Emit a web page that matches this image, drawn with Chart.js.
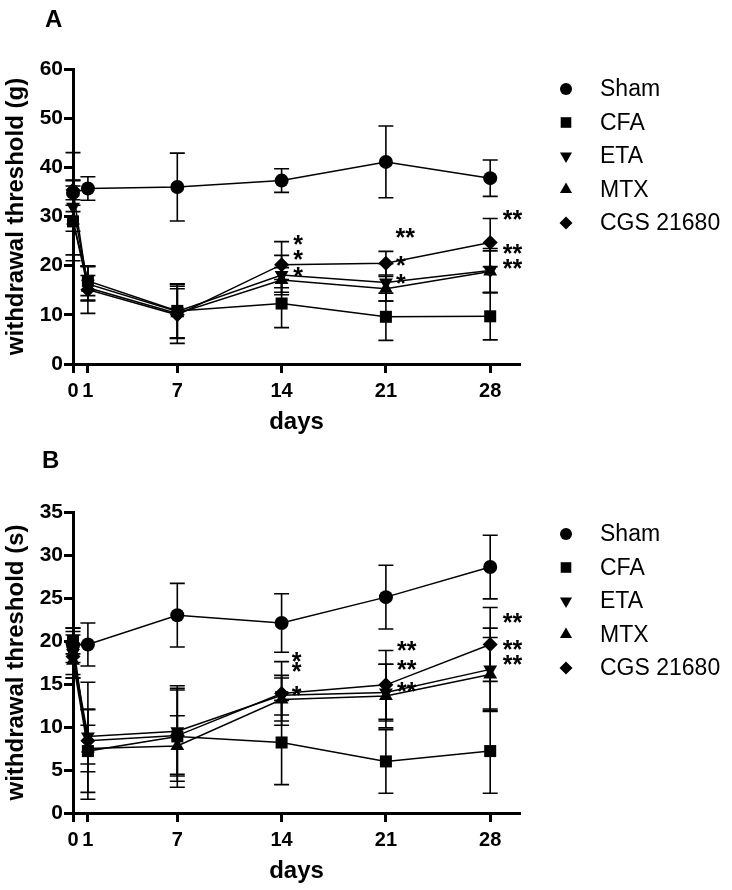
<!DOCTYPE html>
<html>
<head>
<meta charset="utf-8">
<script src="https://cdn.jsdelivr.net/npm/chart.js@4.4.1/dist/chart.umd.min.js"></script>
<style>
  html, body { margin: 0; padding: 0; background: #fff; }
  #wrap { position: relative; width: 732px; height: 890px; }
  canvas { position: absolute; left: 0; }
</style>
</head>
<body>
<div id="wrap">
  <canvas id="chartA" width="732" height="443" style="top:0"></canvas>
  <canvas id="chartB" width="732" height="447" style="top:443px"></canvas>
</div>
<script>
// data
const groups = ['Sham', 'CFA', 'ETA', 'MTX', 'CGS 21680'];
const days = [0, 1, 7, 14, 21, 28];
const tickDays = [0, 1, 7, 14, 21, 28];

// panel A - mechanical threshold (g)
const shamA = [34.8, 35.7, 36.0, 37.3, 41.1, 37.8];
const cfaA  = [29.0, 16.9, 10.8, 12.3, 9.6, 9.7];
const etaA  = [32.0, 16.3, 10.7, 18.1, 16.6, 19.0];
const mtxA  = [29.2, 15.5, 10.3, 17.1, 15.3, 18.8];
const cgsA  = [35.4, 15.1, 10.0, 20.2, 20.5, 24.7];

const shamAErr = [2.5, 2.4, 6.9, 2.4, 7.3, 3.7];
const cfaAErr  = [2.0, 3.0, 5.5, 4.9, 4.8, 4.8];
const etaAErr  = [11.0, 3.5, 5.5, 4.0, 3.8, 4.5];
const mtxAErr  = [7.0, 2.5, 5.0, 2.5, 2.5, 4.2];
const cgsAErr  = [2.0, 4.8, 5.8, 4.7, 2.4, 4.9];

const starDaysA   = [15.1, 15.1, 15.1, 22.3, 22.0, 22.0, 29.5, 29.5, 29.5];
const starValuesA = [25.4, 22.3, 18.9, 26.8, 21.2, 17.5, 30.5, 23.6, 20.6];
const starTextsA  = ['*', '*', '*', '**', '*', '*', '**', '**', '**'];

// panel B - thermal latency (s)
const shamB = [19.5, 19.6, 23.0, 22.1, 25.1, 28.6];
const cfaB  = [20.0, 7.2, 8.9, 8.2, 6.0, 7.2];
const etaB  = [18.6, 8.9, 9.5, 13.7, 14.0, 16.7];
const mtxB  = [17.7, 7.5, 7.8, 13.2, 13.6, 16.1];
const cgsB  = [18.2, 8.4, 9.0, 13.9, 14.9, 19.6];

const shamBErr = [2.0, 2.5, 3.7, 3.4, 3.7, 3.7];
const cfaBErr  = [1.5, 4.8, 5.9, 4.9, 3.7, 4.9];
const etaBErr  = [2.5, 3.2, 5.0, 2.3, 3.3, 4.8];
const mtxBErr  = [2.0, 2.7, 3.5, 2.5, 3.7, 4.3];
const cgsBErr  = [2.5, 6.8, 5.3, 3.7, 4.0, 4.3];

const starDaysB   = [15.0, 15.0, 15.0, 22.4, 22.4, 22.4, 29.5, 29.5, 29.5];
const starValuesB = [18.3, 17.1, 14.3, 19.5, 17.3, 14.8, 22.8, 19.6, 17.9];
const starTextsB  = ['*', '*', '*', '**', '**', '**', '**', '**', '**'];

//style
const FONT = "'Liberation Sans', Arial, Helvetica, sans-serif";
const pointStyles = ['circle', 'rect', 'triangle', 'triangle', 'rectRot'];
const pointRotations = [0, 0, 180, 0, 0];
const pointSizes = [7, 8.5, 8, 8, 7.5];
const legendSizes = [6, 7.5, 7, 7, 6.5];

const errorBars = {
    id: 'errorBars',
    beforeDatasetsDraw(chart, args, opts) {
        const { ctx, scales: { x, y } } = chart;
        ctx.save();
        ctx.strokeStyle = '#000';
        ctx.lineWidth = 1.6;
        opts.errors.forEach((errs, i) => {
            const pts = chart.data.datasets[i].data;
            errs.forEach((e, j) => {
                const px = x.getPixelForValue(pts[j].x);
                const top = y.getPixelForValue(pts[j].y + e);
                const bot = y.getPixelForValue(pts[j].y - e);
                ctx.beginPath();
                ctx.moveTo(px, top); ctx.lineTo(px, bot);
                ctx.moveTo(px - opts.cap, top); ctx.lineTo(px + opts.cap, top);
                ctx.moveTo(px - opts.cap, bot); ctx.lineTo(px + opts.cap, bot);
                ctx.stroke();
            });
        });
        ctx.restore();
    }
};

const stars = {
    id: 'stars',
    afterDatasetsDraw(chart, args, opts) {
        const { ctx, scales: { x, y } } = chart;
        ctx.save();
        ctx.fillStyle = '#000';
        ctx.font = `bold ${opts.size}px ${FONT}`;
        ctx.textAlign = 'center';
        ctx.textBaseline = 'alphabetic';
        opts.texts.forEach((t, i) => {
            ctx.fillText(t, x.getPixelForValue(opts.days[i]), y.getPixelForValue(opts.values[i]) + opts.size * 0.56);
        });
        ctx.restore();
    }
};

const sideLegend = {
    id: 'sideLegend',
    afterDraw(chart, args, opts) {
        const { ctx } = chart;
        ctx.save();
        ctx.fillStyle = '#000';
        ctx.strokeStyle = '#000';
        groups.forEach((g, i) => {
            const cy = opts.top + i * opts.step;
            Chart.helpers.drawPoint(ctx, {
                pointStyle: pointStyles[i],
                rotation: pointRotations[i],
                radius: legendSizes[i],
                borderWidth: 0
            }, opts.markerX, cy);
            ctx.font = `${opts.size}px ${FONT}`;
            ctx.textAlign = 'left';
            ctx.textBaseline = 'middle';
            ctx.fillText(g, opts.textX, cy + 1);
        });
        // panel letter
        ctx.font = `bold 24px ${FONT}`;
        ctx.textBaseline = 'alphabetic';
        ctx.fillText(opts.letter, opts.letterX, opts.letterY);
        ctx.restore();
    }
};

const panelChart = (canvas, p) => {
    const datasets = p.series.map((vals, i) => ({
        label: groups[i],
        data: vals.map((v, j) => ({ x: days[j], y: v })),
        borderColor: '#000',
        borderWidth: 1.5,
        backgroundColor: '#000',
        pointBackgroundColor: '#000',
        pointBorderWidth: 0,
        pointStyle: pointStyles[i],
        pointRotation: pointRotations[i],
        pointRadius: pointSizes[i],
        tension: 0,
        clip: false
    }));

    const config = {
        type: 'line',
        data: { datasets: datasets },
        options: {
            responsive: false,
            animation: false,
            events: [],
            layout: { padding: { left: 0, top: 69, right: 212, bottom: 0 } },
            plugins: {
                legend: { display: false },
                tooltip: { enabled: false },
                errorBars: { errors: p.errors, cap: 7.5 },
                stars: { days: p.starDays, values: p.starValues, texts: p.starTexts, size: 25 },
                sideLegend: {
                    top: p.legendTop, step: 33.5, markerX: 566, textX: 600, size: 23,
                    letter: p.letter, letterX: p.letterX, letterY: p.letterY
                }
            },
            scales: {
                x: {
                    type: 'linear',
                    min: 0,
                    max: 30,
                    afterBuildTicks: s => { s.ticks = tickDays.map(v => ({ value: v })); },
                    afterFit: s => { s.height = p.xHeight; },
                    border: { display: true, color: '#000', width: 3 },
                    grid: { drawOnChartArea: false, tickLength: 9, tickWidth: 3, tickColor: '#000', color: '#000' },
                    ticks: {
                        color: '#000', padding: 6, maxRotation: 0, autoSkip: false,
                        font: { family: FONT, size: 20, weight: 'bold' },
                        callback: v => String(v)
                    },
                    title: {
                        display: true, text: 'days', color: '#000',
                        font: { family: FONT, size: 24, weight: 'bold' },
                        padding: { top: 0, bottom: p.titlePad }
                    }
                },
                y: {
                    min: 0,
                    max: p.yMax,
                    afterFit: s => { s.width = 73; },
                    border: { display: true, color: '#000', width: 3 },
                    grid: { drawOnChartArea: false, tickLength: 9, tickWidth: 3, tickColor: '#000', color: '#000' },
                    ticks: {
                        stepSize: p.yStep, color: '#000', padding: 1,
                        font: { family: FONT, size: 21, weight: 'bold' }
                    },
                    title: {
                        display: true, text: p.yTitle, color: '#000',
                        font: { family: FONT, size: 24, weight: 'bold' },
                        padding: { top: 2, bottom: 0 }
                    }
                }
            }
        },
        plugins: [errorBars, stars, sideLegend]
    };
    return new Chart(canvas, config);
};

//instantiating Chart
const chartA = panelChart(document.getElementById('chartA'), {
    series: [shamA, cfaA, etaA, mtxA, cgsA],
    errors: [shamAErr, cfaAErr, etaAErr, mtxAErr, cgsAErr],
    starDays: starDaysA, starValues: starValuesA, starTexts: starTextsA,
    yMax: 60, yStep: 10, yTitle: 'withdrawal threshold (g)',
    xHeight: 79, titlePad: 6,
    legendTop: 89, letter: 'A', letterX: 45, letterY: 27
});

const chartB = panelChart(document.getElementById('chartB'), {
    series: [shamB, cfaB, etaB, mtxB, cgsB],
    errors: [shamBErr, cfaBErr, etaBErr, mtxBErr, cgsBErr],
    starDays: starDaysB, starValues: starValuesB, starTexts: starTextsB,
    yMax: 35, yStep: 5, yTitle: 'withdrawal threshold (s)',
    xHeight: 77, titlePad: 4,
    legendTop: 91, letter: 'B', letterX: 42, letterY: 25
});
</script>
</body>
</html>
